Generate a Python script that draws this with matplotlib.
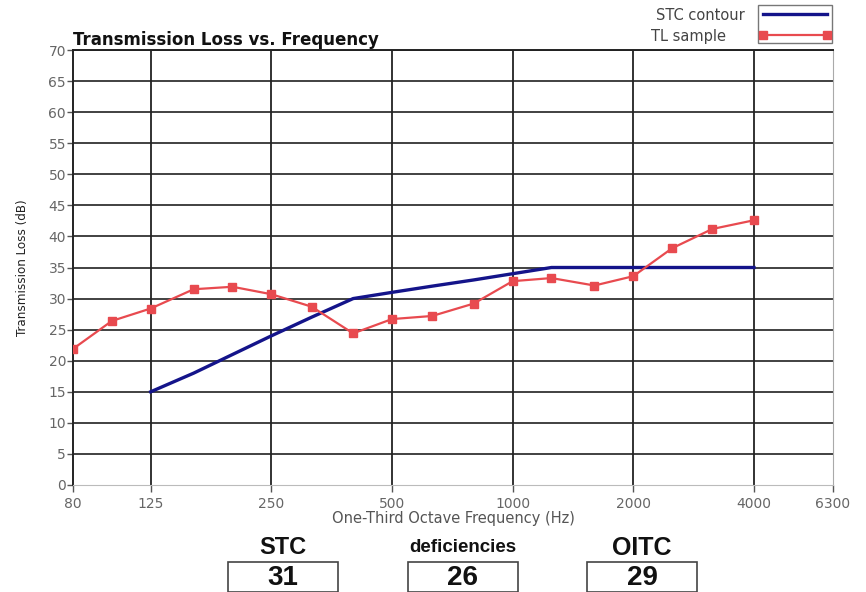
import numpy as np
import matplotlib.pyplot as plt
from matplotlib.patches import Rectangle
from matplotlib.lines import Line2D
from matplotlib.ticker import FixedLocator, NullLocator

freqs = [80, 100, 125, 160, 200, 250, 315, 400, 500, 630, 800, 1000,
         1250, 1600, 2000, 2500, 3150, 4000]
tl_sample = [21.9, 26.4, 28.4, 31.5, 31.9, 30.7, 28.7, 24.4, 26.7, 27.2,
             29.2, 32.8, 33.3, 32.1, 33.6, 38.1, 41.2, 42.6]

stc_freqs = [125, 160, 200, 250, 315, 400, 500, 630, 800, 1000, 1250,
             1600, 2000, 2500, 3150, 4000]
stc_contour = [15, 18, 21, 24, 27, 30, 31, 32, 33, 34, 35, 35, 35, 35, 35, 35]

xticks = [80, 125, 250, 500, 1000, 2000, 4000, 6300]
ratings = [("STC", "31"), ("deficiencies", "26"), ("OITC", "29")]

RED = "#e84a4f"
NAVY = "#14148a"
W, H = 866, 592

fig = plt.figure(figsize=(W / 100, H / 100), dpi=100)
ax = fig.add_axes([73 / W, 1 - 485 / H, (833 - 73) / W, (485 - 50) / H])

ax.set_xscale("log")
ax.set_xlim(80, 6300)
ax.set_ylim(0, 70)

ax.plot(stc_freqs, stc_contour, color=NAVY, lw=2.4, zorder=3)
ax.plot(freqs, tl_sample, color=RED, lw=1.6, marker="s", ms=5.5,
        mec=RED, mfc=RED, zorder=4)

ax.xaxis.set_major_locator(FixedLocator(xticks))
ax.xaxis.set_minor_locator(NullLocator())
ax.set_xticklabels([str(t) for t in xticks])
ax.set_yticks(np.arange(0, 71, 5))

for y in range(5, 71, 5):
    ax.axhline(y, color="#333333", lw=1.3, zorder=1)
for x in xticks[1:-1]:
    ax.axvline(x, color="#222222", lw=1.3, zorder=1)

ax.tick_params(axis="both", colors="#555555", labelsize=10, length=4,
               width=1, labelcolor="#666666")
ax.tick_params(axis="x", length=5, pad=4)
ax.tick_params(axis="y", pad=1)
for side in ["left", "top"]:
    ax.spines[side].set_color("#222222")
    ax.spines[side].set_linewidth(1.4)
ax.spines["bottom"].set_color("#bbbbbb")
ax.spines["right"].set_color("#aaaaaa")

ax.set_xlabel("One-Third Octave Frequency (Hz)", fontsize=10.5,
              color="#555555", labelpad=0)
ax.set_ylabel("Transmission Loss (dB)", fontsize=9.5, color="#222222",
              fontfamily="DejaVu Sans", fontstretch="condensed", labelpad=14)
ax.text(0, 1.002, "Transmission Loss vs. Frequency", transform=ax.transAxes,
        fontsize=12, fontweight="bold", color="#111111", va="bottom")

# legend
fig.text(745 / W, 1 - 15 / H, "STC contour", fontsize=10.5, color="#444444",
         ha="right", va="center")
fig.text(726 / W, 1 - 36 / H, "TL sample", fontsize=10.5, color="#444444",
         ha="right", va="center")
fig.patches.append(Rectangle((758 / W, 1 - 43 / H), 74 / W, 38 / H,
                             transform=fig.transFigure, fill=False,
                             ec="#777777", lw=1))
fig.lines.append(Line2D([763 / W, 827 / W], [1 - 14 / H, 1 - 14 / H],
                        transform=fig.transFigure, color=NAVY, lw=2.4))
fig.lines.append(Line2D([763 / W, 827 / W], [1 - 35 / H, 1 - 35 / H],
                        transform=fig.transFigure, color=RED, lw=1.6,
                        marker="s", ms=5.5, markevery=[0, 1]))

# rating boxes
box_left = [228, 408, 587]
label_size = {"STC": 17, "deficiencies": 13.5, "OITC": 18}
for (label, value), x0 in zip(ratings, box_left):
    cx = x0 + 55
    fig.text(cx / W, 1 - 548 / H, label, fontsize=label_size[label],
             fontweight="bold", fontfamily="Liberation Sans", ha="center",
             va="center", color="#111111")
    fig.patches.append(Rectangle((x0 / W, 0), 110 / W, 30 / H,
                                 transform=fig.transFigure, fill=False,
                                 ec="#444444", lw=1.2))
    fig.text(cx / W, 14 / H, value, fontsize=20, fontweight="bold",
             fontfamily="Liberation Sans", ha="center", va="center",
             color="#111111")

fig.savefig("out.png", dpi=100)
